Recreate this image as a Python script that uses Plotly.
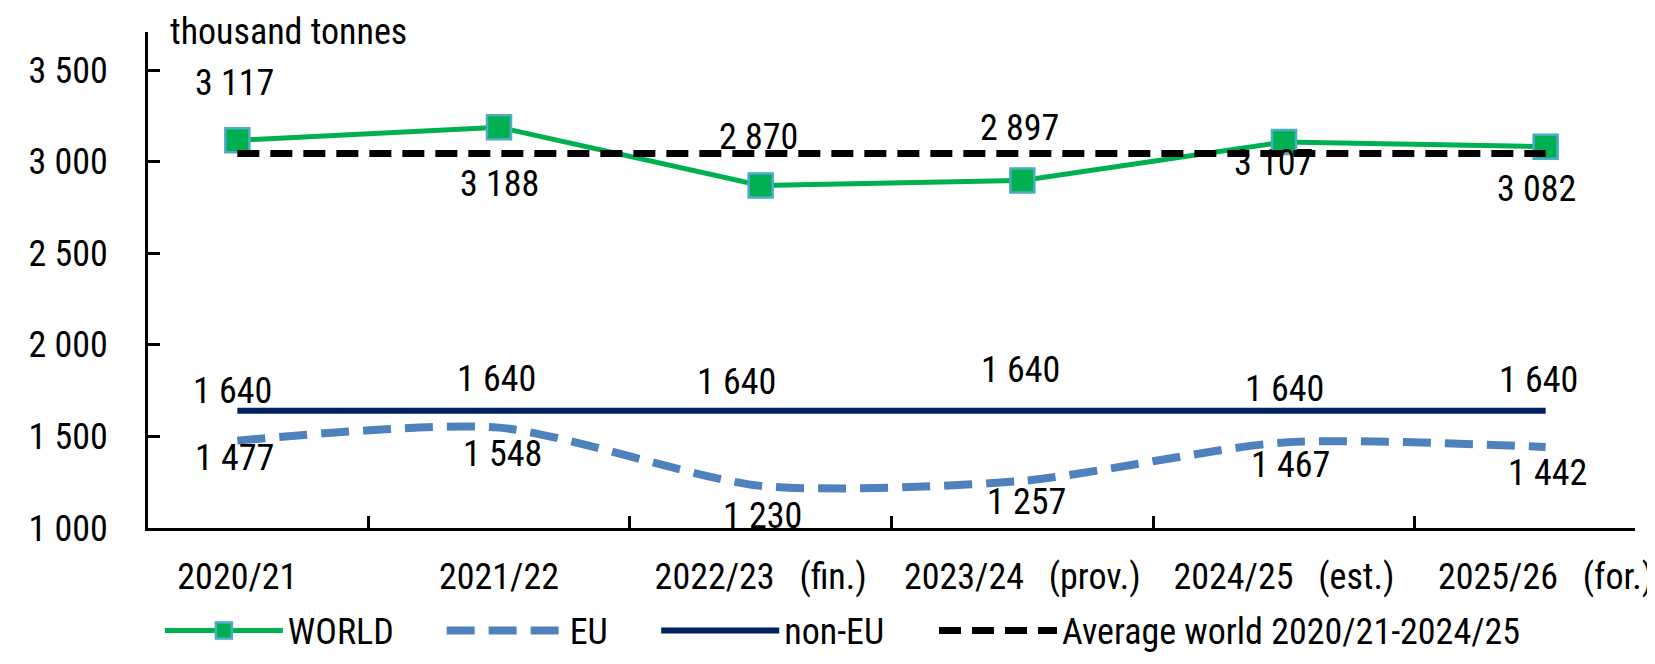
import plotly.graph_objects as go

categories = ["2020/21", "2021/22", "2022/23\u00a0\u00a0\u00a0(fin.)", "2023/24\u00a0\u00a0\u00a0(prov.)",
              "2024/25\u00a0\u00a0\u00a0(est.)", "2025/26\u00a0\u00a0\u00a0(for.)"]
world = [3117, 3188, 2870, 2897, 3107, 3082]
eu = [1477, 1548, 1230, 1257, 1467, 1442]
non_eu = [1640, 1640, 1640, 1640, 1640, 1640]
avg_world = [3045, 3045, 3045, 3045, 3045, 3045]
y_ticks = [1000, 1500, 2000, 2500, 3000, 3500]

# label offsets (px) as placed in the reference
world_dy = [57, -57, 48, 53, -21, -42]
world_dx = [-3, 0, -2, -3, -10, -9]
eu_dy = [-17, -26, -30, -21, -23, -26]
eu_dx = [-3, 3, 2, 4, 7, 2]
noneu_dy = [20, 32, 29, 41, 22, 31]
noneu_dx = [-5, -3, -24, -2, 1, -7]

FONT = "Roboto Condensed, DejaVu Sans Condensed, sans-serif"
FS = 36
# the page places the figure 8 px from the top-left corner of the window
OFF = 8
W, H = 1655 - OFF, 664 - OFF
L, T = 148 - OFF, 32 - OFF
R, B = W - (1652 - OFF), H - (540 - OFF)
PW, PH = W - L - R, H - T - B


def fmt(v):
    return f"{v:,}".replace(",", " ")


def sx(px):  # window x -> paper x
    return (px - OFF - L) / PW


def sy(py):  # window y -> paper y
    return (H - B - (py - OFF)) / PH


fig = go.Figure()
fig.add_trace(go.Scatter(
    x=categories, y=world, name="WORLD", mode="lines+markers",
    line=dict(color="#00B050", width=5),
    marker=dict(symbol="square", size=24, color="#00B050", line=dict(color="#4BACC6", width=2.5)),
    legend="legend"))
fig.add_trace(go.Scatter(
    x=categories, y=eu, name="EU", mode="lines",
    line=dict(color="#4F81BD", width=8, dash="28px,14px", shape="spline", smoothing=0.7),
    legend="legend2"))
fig.add_trace(go.Scatter(
    x=categories, y=non_eu, name="non-EU", mode="lines",
    line=dict(color="#002060", width=6),
    legend="legend3"))
fig.add_trace(go.Scatter(
    x=categories, y=avg_world, name="Average world 2020/21-2024/25", mode="lines",
    line=dict(color="#000000", width=7, dash="22px,11px"),
    legend="legend4"))

anns = []
for series, dys, dxs in [(world, world_dy, world_dx), (eu, eu_dy, eu_dx), (non_eu, noneu_dy, noneu_dx)]:
    for c, v, dy, dx in zip(categories, series, dys, dxs):
        anns.append(dict(x=c, y=v, xref="x", yref="y", text=fmt(v), showarrow=False,
                         xshift=dx, yshift=dy, font=dict(family=FONT, size=FS, color="#000000")))
anns.append(dict(x=sx(168), y=sy(OFF), xref="paper", yref="paper",
                 text="thousand tonnes", showarrow=False, xanchor="left", yanchor="top",
                 font=dict(family=FONT, size=FS, color="#000000")))

legend_common = dict(orientation="h", yanchor="middle", y=sy(645), xanchor="left",
                     font=dict(family=FONT, size=FS, color="#000000"), bgcolor="rgba(0,0,0,0)",
                     itemwidth=118, borderwidth=0)

fig.update_layout(
    width=W, height=H,
    margin=dict(l=L, r=R, t=T, b=B),
    paper_bgcolor="white", plot_bgcolor="white",
    separators=". ",
    font=dict(family=FONT, size=FS, color="#000000"),
    showlegend=True,
    legend=dict(legend_common, x=sx(160)),
    legend2=dict(legend_common, x=sx(445)),
    legend3=dict(legend_common, x=sx(662)),
    legend4=dict(legend_common, x=sx(943)),
    xaxis=dict(type="category", showline=True, linecolor="#000000", linewidth=3,
               ticks="inside", tickson="boundaries", ticklen=12, tickwidth=2.5, tickcolor="#000000",
               showgrid=False, zeroline=False, tickfont=dict(family=FONT, size=FS),
               ticklabelstandoff=15),
    yaxis=dict(range=[1000, 3708], tickvals=y_ticks, tickformat=",d", showline=True,
               linecolor="#000000", linewidth=3, ticks="inside", ticklen=12, tickwidth=2.5,
               tickcolor="#000000", showgrid=False, zeroline=False,
               tickfont=dict(family=FONT, size=FS), ticklabelstandoff=30),
    annotations=anns,
)

fig.write_html("out.html")
